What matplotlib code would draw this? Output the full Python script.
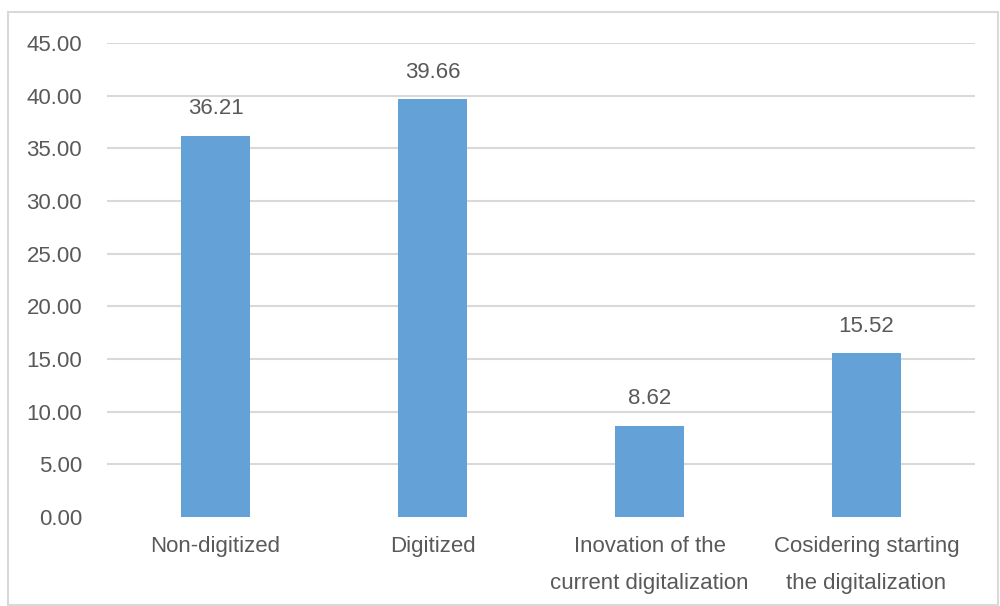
import matplotlib
matplotlib.use("Agg")
import matplotlib.pyplot as plt
from matplotlib.patches import Rectangle

categories = [
    "Non-digitized",
    "Digitized",
    "Inovation of the\ncurrent digitalization",
    "Cosidering starting\nthe digitalization",
]
values = [36.21, 39.66, 8.62, 15.52]
y_ticks = [0, 5, 10, 15, 20, 25, 30, 35, 40, 45]

bar_color = "#63A1D7"
grid_color = "#D9D9D9"
text_color = "#595959"
font_size = 16

plt.rcParams["font.family"] = ["Liberation Sans", "DejaVu Sans"]

fig = plt.figure(figsize=(10, 6.06), dpi=100)
ax = fig.add_axes([0.107, 0.147, 0.868, 0.782])

x = list(range(len(categories)))
bars = ax.bar(x, values, width=0.32, color=bar_color, zorder=3)

for rect, v in zip(bars, values):
    ax.annotate(f"{v:.2f}", xy=(rect.get_x() + rect.get_width() / 2, v),
                xytext=(0, 12), textcoords="offset points",
                ha="center", va="bottom", fontsize=font_size, color=text_color)

ax.set_xlim(-0.5, len(categories) - 0.5)
ax.set_ylim(0, 45)
ax.set_yticks(y_ticks)
ax.set_yticklabels([f"{t:.2f}" for t in y_ticks])
ax.set_xticks(x)
ax.set_xticklabels(categories, linespacing=1.95)

ax.tick_params(axis="y", length=0, pad=18, labelsize=font_size, labelcolor=text_color)
ax.tick_params(axis="x", length=0, pad=14, labelsize=font_size, labelcolor=text_color)

ax.yaxis.grid(True, color=grid_color, linewidth=1.5, zorder=0)
ax.set_axisbelow(True)
for s in ax.spines.values():
    s.set_visible(False)
# hide the gridline at zero
ax.get_ygridlines()[0].set_visible(False)

# light frame around the chart area
fig.patches.append(Rectangle((0.008, 0.002), 0.99, 0.978, transform=fig.transFigure,
                             fill=False, edgecolor=grid_color, linewidth=1.5))

fig.savefig("out.png", dpi=100)
